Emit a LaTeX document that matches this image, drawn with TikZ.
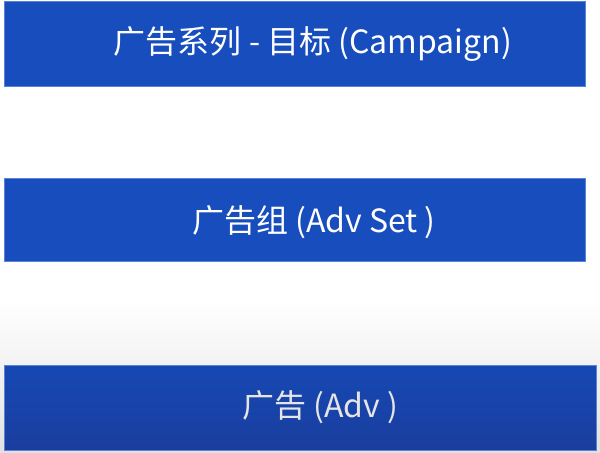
\documentclass[tikz,border=0pt]{standalone}
\usepackage{fontspec}
\newfontfamily\cjk{Noto Sans CJK SC}
\usepackage{tikz}
\usetikzlibrary{positioning}

\definecolor{barblue}{RGB}{24,77,190}
\definecolor{baredge}{RGB}{90,130,215}
\definecolor{advtop}{RGB}{22,72,180}
\definecolor{advbottom}{RGB}{26,62,158}
\definecolor{floorgray}{RGB}{226,226,226}

\begin{document}
\begin{tikzpicture}[x=0.5pt,y=-0.5pt,node distance=45.5pt,
                    bar/.style={rectangle,fill=barblue,draw=baredge,line width=0.4pt,
                                inner sep=0pt,minimum width=290.5pt,minimum height=42.5pt},
                    bar text/.style={text=white,inner sep=0pt,font=\cjk\fontsize{16}{19}\selectfont}]

  % page and floor shading
  \useasboundingbox (0,0) rectangle (600,452);
  \fill[white] (0,0) rectangle (600,300);
  \shade[top color=white,bottom color=floorgray] (0,299.5) rectangle (600,452);

  \node[bar,anchor=north west] (campaign) at (4,1) {};
  \node[bar,minimum height=41.5pt,below right=45.5pt and 0pt of campaign.south west] (advset) {};
  \node[bar,minimum width=296pt,top color=advtop,bottom color=advbottom,
        below right=51.5pt and 0pt of advset.south west] (adv) {};

  \node[bar text,xshift=9pt] (campaigntext) at (campaign) {广告系列 - 目标 (Campaign)};
  \node[bar text,xshift=9.5pt,yshift=-1pt] (advsettext) at (advset) {广告组 (Adv Set )};
  \node[bar text,text=white!90!black,xshift=10pt] (advtext) at (adv) {广告 (Adv )};

\end{tikzpicture}
\end{document}
